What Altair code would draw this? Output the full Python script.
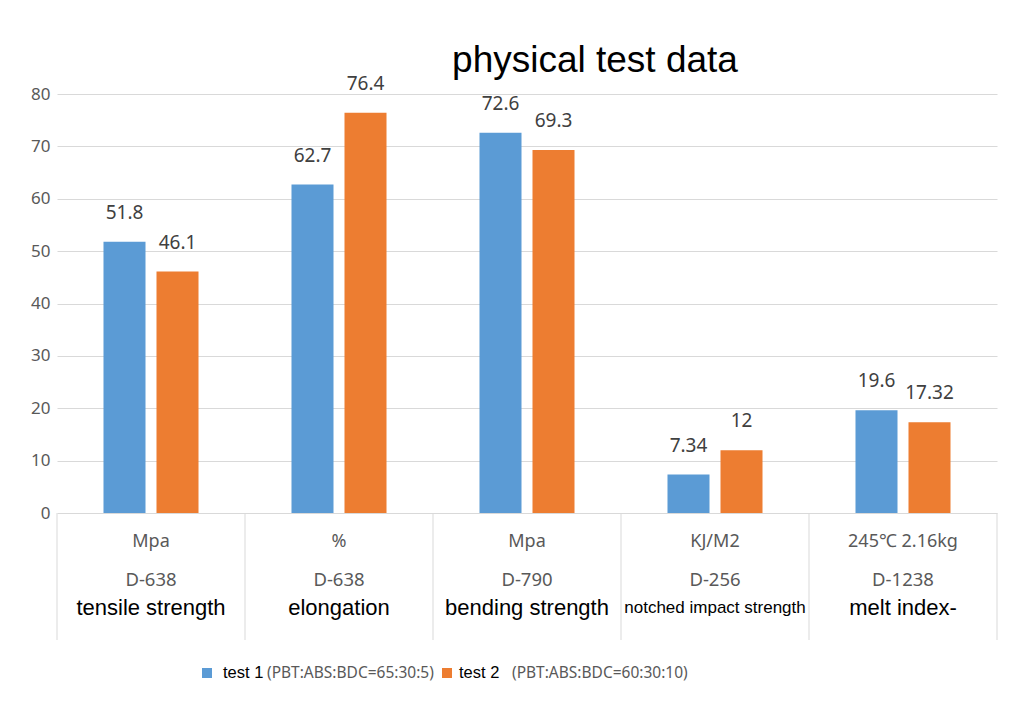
import altair as alt
import pandas as pd

# ---- data ----
categories = ["tensile strength", "elongation", "bending strength",
              "notched impact strength", "melt index-"]
units = ["Mpa", "%", "Mpa", "KJ/M2", "245\u2103 2.16kg"]
standards = ["D-638", "D-638", "D-790", "D-256", "D-1238"]
series = ["test 1", "test 2"]
series_notes = ["(PBT:ABS:BDC=65:30:5)", "(PBT:ABS:BDC=60:30:10)"]
test1 = [51.8, 62.7, 72.6, 7.34, 19.6]
test2 = [46.1, 76.4, 69.3, 12, 17.32]
y_ticks = [0, 10, 20, 30, 40, 50, 60, 70, 80]
title_text = "physical test data"

colors = ["#5b9bd5", "#ed7d31"]

rows = []
for i, c in enumerate(categories):
    for s, vals in zip(series, [test1, test2]):
        rows.append({"cat": c, "series": s, "value": vals[i], "label": str(vals[i])})
bars_df = pd.DataFrame(rows)
table_df = pd.DataFrame({"cat": categories, "unit": units, "std": standards})
one_df = pd.DataFrame({"k": [0]})

W, H = 940, 419
TABLE_BOTTOM = 546

x_enc = alt.X("cat:N", sort=categories,
              scale=alt.Scale(paddingInner=0, paddingOuter=0), axis=None)
xoff = alt.XOffset("series:N", sort=series,
                   scale=alt.Scale(paddingInner=0.2075, paddingOuter=0.877))
y_enc = alt.Y("value:Q", scale=alt.Scale(domain=[0, 80], nice=False),
              axis=alt.Axis(values=y_ticks, title=None, domain=False, ticks=False,
                            grid=True, gridColor="#d9d9d9", gridWidth=1,
                            labelFont="Noto Sans", labelFontSize=17,
                            labelColor="#595959", labelPadding=7))

bars = alt.Chart(bars_df).mark_bar().encode(
    x=x_enc, xOffset=xoff, y=y_enc,
    color=alt.Color("series:N", sort=series,
                    scale=alt.Scale(domain=series, range=colors), legend=None),
)

labels = alt.Chart(bars_df).mark_text(
    baseline="bottom", dy=-19, font="Noto Sans", fontSize=19, color="#404040"
).encode(x=x_enc, xOffset=xoff, y=alt.Y("value:Q"), text="label:N")

seps = alt.Chart(table_df).mark_rule(color="#d9d9d9", strokeWidth=1).encode(
    x=alt.X("cat:N", sort=categories, bandPosition=0),
    y=alt.value(H), y2=alt.value(TABLE_BOTTOM),
)
right_edge = alt.Chart(one_df).mark_rule(color="#d9d9d9", strokeWidth=1).encode(
    x=alt.value(W), y=alt.value(H), y2=alt.value(TABLE_BOTTOM),
)

unit_txt = alt.Chart(table_df).mark_text(
    font="Noto Sans", fontSize=18, color="#595959", baseline="middle"
).encode(x=alt.X("cat:N", sort=categories), y=alt.value(448), text="unit:N")

std_txt = alt.Chart(table_df).mark_text(
    font="Noto Sans", fontSize=18.5, color="#595959", baseline="middle"
).encode(x=alt.X("cat:N", sort=categories), y=alt.value(486), text="std:N")

name_txt = alt.Chart(table_df).mark_text(
    font="Liberation Sans", color="#000000", baseline="middle"
).encode(
    x=alt.X("cat:N", sort=categories), y=alt.value(514), text="cat:N",
    size=alt.condition("length(datum.cat) > 18", alt.value(17), alt.value(22)),
)

title = alt.Chart(one_df).mark_text(
    font="Liberation Sans", fontSize=37, color="#000000", baseline="middle"
).encode(x=alt.value(538), y=alt.value(-33), text=alt.value(title_text))

legend_layers = []
leg_x = [[150, 166, 210], [390, 402, 455]]
for i, s in enumerate(series):
    sq_x, name_x, note_x = leg_x[i]
    legend_layers.append(
        alt.Chart(one_df).mark_square(size=100, color=colors[i], opacity=1).encode(
            x=alt.value(sq_x), y=alt.value(579)))
    legend_layers.append(
        alt.Chart(one_df).mark_text(font="Liberation Sans", fontSize=16.5, color="#000000",
                                    align="left", baseline="middle").encode(
            x=alt.value(name_x), y=alt.value(579), text=alt.value(s)))
    legend_layers.append(
        alt.Chart(one_df).mark_text(font="Noto Sans", fontSize=15.5, color="#595959",
                                    align="left", baseline="middle").encode(
            x=alt.value(note_x), y=alt.value(579), text=alt.value(series_notes[i])))

chart = alt.layer(
    bars, labels, seps, right_edge, unit_txt, std_txt, name_txt, title, *legend_layers
).properties(
    width=W, height=H,
    autosize=alt.AutoSizeParams(type="none"),
    padding={"left": 49, "top": 86, "right": 19, "bottom": 187},
    background="white",
).configure_view(stroke=None)

chart.save("out.html", embed_options={"renderer": "svg", "actions": False})
